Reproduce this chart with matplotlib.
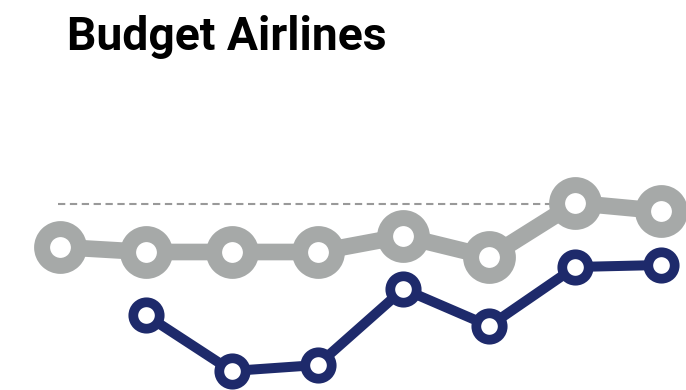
import matplotlib.pyplot as plt

# fare index per period, budget carriers vs. all airlines
periods = [0, 1, 2, 3, 4, 5, 6, 7]
all_airlines = [14.3, 13.8, 13.8, 13.8, 15.4, 13.3, 18.7, 17.9]
budget_periods = [1, 2, 3, 4, 5, 6, 7]
budget = [7.5, 1.9, 2.5, 10.1, 6.4, 12.3, 12.5]
ref_level = 18.6

gray = '#a6a9a8'
navy = '#1e2a6b'

fig = plt.figure(figsize=(6.86, 3.90), dpi=100)
ax = fig.add_axes([0, 0, 1, 1])
ax.set_xlim(-0.699, 7.291)
ax.set_ylim(0, 39)
ax.axis('off')

# dashed reference line up to the peak
ax.plot([-0.02, 6], [ref_level, ref_level], color='#999999', lw=1.5,
        linestyle=(0, (3.5, 2.2)), zorder=1)

ax.plot(periods, all_airlines, color=gray, lw=12, marker='o', ms=26.5,
        mew=11.5, mec=gray, mfc='white', solid_capstyle='round',
        zorder=2, clip_on=False)
ax.plot(budget_periods, budget, color=navy, lw=7.2, marker='o', ms=19,
        mew=7, mec=navy, mfc='white', zorder=3, clip_on=False)

fig.text(0.098, 1 - 50 / 390, 'Budget Airlines', fontsize=33.3,
         fontweight='bold', va='baseline', ha='left',
         family=['Roboto', 'DejaVu Sans'])

fig.savefig('out.png', dpi=100)
